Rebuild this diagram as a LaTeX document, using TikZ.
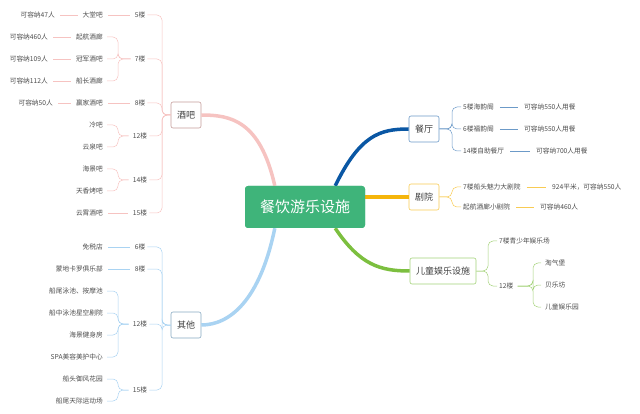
\documentclass[tikz,border=0pt]{standalone}
\usepackage{fontspec}
\setmainfont{Noto Sans CJK SC}
\begin{document}
\begin{tikzpicture}[x=1pt,y=-1pt,
 t/.style={font=\fontsize{6.7}{7}\selectfont,text=black!70,inner sep=2pt},
 le/.style={t,anchor=east},
 ri/.style={t,anchor=west},
 cat/.style={draw=#1,line width=0.6pt,rounded corners=2pt,fill=white,font=\fontsize{9}{10}\selectfont,text=black!75,minimum height=26pt,inner xsep=6pt},
 br/.style={draw=#1,line width=0.5pt,rounded corners=5pt},
 main/.style={draw=#1,line width=3.5pt}]
\useasboundingbox (0,0) rectangle (640,414);
\definecolor{pk}{HTML}{F6C3C1}\definecolor{lb}{HTML}{A9D3F2}
\definecolor{db}{HTML}{0A57A4}\definecolor{og}{HTML}{F5B50A}\definecolor{gr}{HTML}{7CBF3F}
\definecolor{cg}{HTML}{3FB47A}
\tikzset{center/.style={fill=cg,text=white,rounded corners=3pt,minimum width=120pt,minimum height=42pt,font=\fontsize{15}{17}\selectfont}}
\node[center] (c) at (305,207) {餐饮游乐设施};
\node[cat=pk!80!black] (jb) at (186,115) {酒吧};
\node[cat=lb!80!black] (qt) at (186,325) {其他};
\node[cat=db!60] (ct) at (424,129) {餐厅};
\node[cat=og!70] (jy) at (424,197) {剧院};
\node[cat=gr!70] (et) at (443,271) {儿童娱乐设施};
\draw[main=pk] (c.north west) ++(30,0) .. controls (260,120) and (230,115) .. (jb.east);
\draw[main=lb] (c.south west) ++(30,0) .. controls (260,300) and (230,325) .. (qt.east);
\draw[main=db] (c.north east) ++(-30,0) .. controls (360,135) and (380,129) .. (ct.west);
\draw[main=og] (c.east |- jy.west) -- (jy.west);
\draw[main=gr] (c.south east) ++(-30,0) .. controls (360,265) and (380,271) .. (et.west);
\node[center] (c2) at (c) {餐饮游乐设施};
% ---- bars
\foreach \n/\y/\s in {f5/15/5楼,f7/59/7楼,f8/103/8楼,f12/136/12楼,f14/180/14楼,f15/213/15楼}
  \node[t] (\n) at (140,\y) {\s};
\foreach \n in {f5,f7,f8,f12,f14,f15}
  \draw[br=pk] (jb.west) -- (162,115) |- (\n.east);
\foreach \n/\y/\s in {b1/15/大堂吧,b2/37/起航酒廊,b3/59/冠军酒吧,b4/81/船长酒廊,b5/103/赢家酒吧,b6/125/冷吧,b7/147/云泉吧,b8/169/海景吧,b9/191/天香烤吧,b10/213/云霄酒吧}
  \node[le] (\n) at (105,\y) {\s};
\foreach \n/\y/\s/\x in {k1/15/可容纳47人/57,k2/37/可容纳460人/50,k3/59/可容纳109人/50,k4/81/可容纳112人/50,k5/103/可容纳50人/55}
  \node[le] (\n) at (\x,\y) {\s};
\foreach \a/\b in {k1/b1,k2/b2,k3/b3,k4/b4,k5/b5,b1/f5,b5/f8,b10/f15}
  \draw[pk,line width=0.5pt] (\a.east) ++(3,0) -- ([xshift=-3pt]\b.west);
\foreach \f/\b in {f7/b2,f7/b3,f7/b4,f12/b6,f12/b7,f14/b8,f14/b9}
  \draw[br=pk] ([xshift=-2pt]\f.west) -- (118,0 |- \f.west) |- ([xshift=2pt]\b.east);
% ---- others
\foreach \n/\y/\s in {g6/247/6楼,g8/269/8楼,g12/324/12楼,g15/390/15楼}
  \node[t] (\n) at (140,\y) {\s};
\foreach \n in {g6,g8,g12,g15}
  \draw[br=lb] (qt.west) -- (162,325) |- (\n.east);
\foreach \n/\y/\s in {o1/247/免税店,o2/269/蒙地卡罗俱乐部,o3/291/船尾泳池、按摩池,o4/313/船中泳池星空剧院,o5/335/海景健身房,o6/357/SPA美容美护中心,o7/379/船头御风花园,o8/401/船尾天际运动场}
  \node[le] (\n) at (105,\y) {\s};
\foreach \a/\b in {o1/g6,o2/g8}
  \draw[lb,line width=0.5pt] (\a.east) ++(3,0) -- ([xshift=-3pt]\b.west);
\foreach \f/\b in {g12/o3,g12/o4,g12/o5,g12/o6,g15/o7,g15/o8}
  \draw[br=lb] ([xshift=-2pt]\f.west) -- (118,0 |- \f.west) |- ([xshift=2pt]\b.east);
% ---- restaurant
\foreach \n/\y/\s/\m/\x in {r1/107/5楼海韵阁/可容纳550人用餐/522,r2/129/6楼福韵阁/可容纳550人用餐/522,r3/151/14楼自助餐厅/可容纳700人用餐/534}{
  \node[ri] (\n) at (461,\y) {\s};
  \node[ri] (\n m) at (\x,\y) {\m};
  \draw[db!60,line width=0.5pt] (\n.east) ++(4,0) -- ([xshift=-4pt]\n m.west);
  \draw[br=db!60] (ct.east) -- (452,129) |- (\n.west);}
% ---- theatre
\foreach \n/\y/\s/\m/\x in {t1/187/7楼船头魅力大剧院/924平米，可容纳550人/550,t2/207/起航酒廊小剧院/可容纳460人/538}{
  \node[ri] (\n) at (461,\y) {\s};
  \node[ri] (\n m) at (\x,\y) {\m};
  \draw[og!70,line width=0.5pt] (\n.east) ++(4,0) -- ([xshift=-4pt]\n m.west);
  \draw[br=og!70] (jy.east) -- (452,197) |- (\n.west);}
% ---- children
\node[ri] (e1) at (497,241) {7楼青少年娱乐场};
\node[ri] (e2) at (497,286) {12楼};
\foreach \n in {e1,e2} \draw[br=gr!70] (et.east) -- (488,271) |- (\n.west);
\foreach \n/\y/\s in {h1/263/淘气堡,h2/285/贝乐坊,h3/307/儿童娱乐园}{
  \node[ri] (\n) at (543,\y) {\s};
  \draw[br=gr!70] ([xshift=2pt]e2.east) -- (533,0 |- e2.east) |- ([xshift=-2pt]\n.west);}
\end{tikzpicture}
\end{document}
